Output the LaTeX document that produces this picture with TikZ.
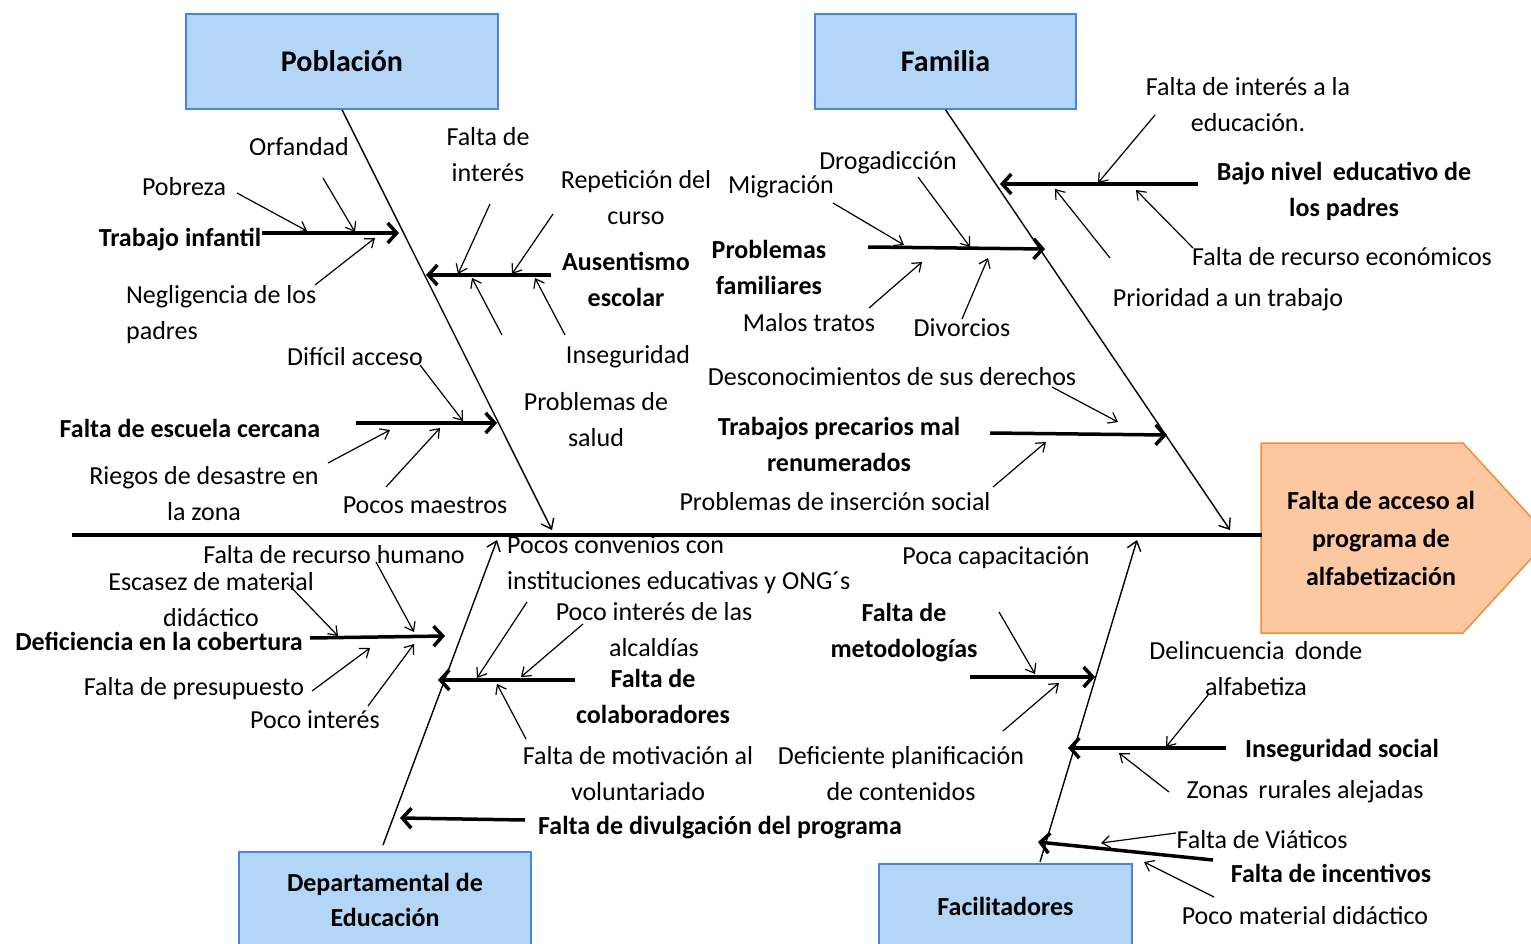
\documentclass[tikz,border=0pt]{standalone}
\usepackage{fontspec}
\setmainfont{Carlito}
\usetikzlibrary{arrows.meta}
\definecolor{boxfill}{HTML}{B4D6F6}
\definecolor{boxline}{HTML}{4583E6}
\definecolor{efffill}{HTML}{FBC8A2}
\definecolor{effline}{HTML}{F28C3A}
\begin{document}
\begin{tikzpicture}[x=1pt,y=-1pt,
  every node/.style={inner sep=0pt, align=center, font=\fontsize{26}{36}\selectfont},
  bld/.style={font=\fontsize{26}{36}\selectfont\bfseries},
  cat/.style={draw=boxline, fill=boxfill, line width=1.5pt},
  bone/.style={line width=1.4pt, -{Straight Barb[length=9pt,width=14pt]}},
  sub/.style={line width=1.2pt, -{Straight Barb[length=8pt,width=12pt]}},
  major/.style={line width=3.5pt, -{Straight Barb[length=9pt,width=20pt]}},
  spine/.style={line width=3.5pt}
]
\clip (0,0) rectangle (1531,944);
\fill[white] (0,0) rectangle (1531,944);

% ---------- category boxes ----------
\node[cat, minimum width=312pt, minimum height=95pt, font=\fontsize{30}{36}\selectfont\bfseries] (pob) at (342,61.5) {Población};
\node[cat, minimum width=261pt, minimum height=95pt, font=\fontsize{30}{36}\selectfont\bfseries] (fam) at (945.5,61.5) {Familia};
\node[cat, minimum width=292pt, minimum height=96pt, font=\fontsize{26}{35}\selectfont\bfseries] (dep) at (385,900) {Departamental de\\Educación};
\node[cat, minimum width=253pt, minimum height=84pt, font=\fontsize{26}{35}\selectfont\bfseries] (fac) at (1005.5,906) {Facilitadores};

% ---------- effect ----------
\draw[draw=effline, fill=efffill, line width=1.5pt] (1261,443) -- (1463,443) -- (1550,538) -- (1463,633) -- (1261,633) -- cycle;
\node[bld, font=\fontsize{26}{38}\selectfont\bfseries] (eff) at (1381,538) {Falta de acceso al\\programa de\\alfabetización};
\coordinate (effw) at (1262,535);
\coordinate (spl) at (72,535);
\draw[spine] (spl) -- (effw);

% ---------- main bones ----------
\coordinate (pobtip) at (552,530);
\coordinate (famtip) at (1230,530);
\coordinate (depbase) at (383,845);
\coordinate (deptip) at (497,540);
\coordinate (facbase) at (1040,862);
\coordinate (factip) at (1137,540);
\draw[bone] (pob.south) -- (pobtip);
\draw[bone] (fam.south) -- (famtip);
\draw[bone] (depbase) -- (deptip);
\draw[bone] (facbase) -- (factip);

% ---------- labels: Poblacion ----------
\node (orf) at (299,147) {Orfandad};
\node (pobr) at (184,187) {Pobreza};
\node[bld] (ti) at (180,240) {Trabajo infantil};
\node[anchor=west, align=left] (neg) at (126,315) {Negligencia de los\\padres};
\node (fint) at (488,155) {Falta de\\interés};
\node (rep) at (636,198) {Repetición del\\curso};
\node[bld] (aus) at (626,279) {Ausentismo\\escolar};
\node (inseg) at (628,357) {Inseguridad};
\node (psal) at (596,420) {Problemas de\\salud};
\node (dif) at (355,357) {Difícil acceso};
\node[bld] (fec) at (190,428) {Falta de escuela cercana};
\node (rie) at (204,494) {Riegos de desastre en\\la zona};
\node (pm) at (425,505) {Pocos maestros};

% ---------- labels: Familia ----------
\node (dro) at (888,163) {Drogadicción};
\node (mig) at (781,187) {Migración};
\node[bld] (pf) at (769,267) {Problemas\\familiares};
\node (mal) at (809,323) {Malos tratos};
\node (div) at (962,328) {Divorcios};
\node (fie) at (1248,105) {Falta de interés a la\\educación.};
\node[bld] (bn) at (1344,191) {Bajo nivel \,educativo de\\los padres};
\node (fre) at (1342,257) {Falta de recurso económicos};
\node (pri) at (1228,300) {Prioridad a un trabajo};
\node (des) at (892,377) {Desconocimientos de sus derechos};
\node[bld] (tp) at (839,444) {Trabajos precarios mal\\renumerados};
\node (pins) at (835,502) {Problemas de inserción social};

% ---------- labels: Departamental ----------
\node (frh) at (334,555) {Falta de recurso humano};
\node (esc) at (211,600) {Escasez de material\\didáctico};
\node[bld] (dc) at (159,641) {Deficiencia en la cobertura};
\node (fpre) at (194,689) {Falta de presupuesto};
\node (pint) at (315,720) {Poco interés};
\node[anchor=west, align=left] (pconv) at (507,565) {Pocos convenios con\\instituciones educativas y ONG´s};
\node (palc) at (654,630) {Poco interés de las\\alcaldías};
\node[bld] (fcol) at (653,696) {Falta de\\colaboradores};
\node (fmot) at (638,774) {Falta de motivación al\\voluntariado};
\node[bld] (fdiv) at (720,828) {Falta de divulgación del programa};

% ---------- labels: Facilitadores ----------
\node (pcap) at (996,558) {Poca capacitación};
\node[bld] (fmet) at (904,633) {Falta de\\metodologías};
\node (dpl) at (901,774) {Deficiente planificación\\de contenidos};
\node (del) at (1256,669) {Delincuencia \,donde\\alfabetiza};
\node[bld] (iss) at (1342,751) {Inseguridad social};
\node (zon) at (1305,792) {Zonas \,rurales alejadas};
\node (fvia) at (1262,840) {Falta de Viáticos};
\node[bld] (finc) at (1331,873) {Falta de incentivos};
\node (pmd) at (1305,916) {Poco material didáctico};

% ---------- major cause arrows ----------
\coordinate (ti-a) at (262,233);  \coordinate (ti-b) at (399,233);
\coordinate (au-a) at (551,275);  \coordinate (au-b) at (426,275);
\coordinate (fe-a) at (356,423);  \coordinate (fe-b) at (497,423);
\coordinate (pf-a) at (868,247);  \coordinate (pf-b) at (1045,249);
\coordinate (bn-a) at (1198,184); \coordinate (bn-b) at (1000,184);
\coordinate (tp-a) at (990,433);  \coordinate (tp-b) at (1167,435);
\coordinate (dc-a) at (310,638);  \coordinate (dc-b) at (445,636);
\coordinate (fc-a) at (575,680);  \coordinate (fc-b) at (438,680);
\coordinate (fd-a) at (525,820);  \coordinate (fd-b) at (400,818);
\coordinate (fm-a) at (970,677);  \coordinate (fm-b) at (1095,677);
\coordinate (is-a) at (1226,748); \coordinate (is-b) at (1068,748);
\coordinate (fi-a) at (1213,860); \coordinate (fi-b) at (1038,842);
\foreach \m in {ti,au,fe,pf,bn,tp,dc,fc,fd,fm,is,fi}
  \draw[major] (\m-a) -- (\m-b);

% ---------- minor cause arrows ----------
\coordinate (s1a) at (237,193);  \coordinate (s1b) at (307,231);
\coordinate (s2a) at (323,178);  \coordinate (s2b) at (355,232);
\coordinate (s3a) at (315,285);  \coordinate (s3b) at (375,238);
\coordinate (s4a) at (490,204);  \coordinate (s4b) at (458,274);
\coordinate (s5a) at (553,214);  \coordinate (s5b) at (512,274);
\coordinate (s6a) at (502,335);  \coordinate (s6b) at (472,278);
\coordinate (s7a) at (565,335);  \coordinate (s7b) at (535,278);
\coordinate (s8a) at (420,365);  \coordinate (s8b) at (463,421);
\coordinate (s9a) at (328,463);  \coordinate (s9b) at (390,430);
\coordinate (s10a) at (386,487); \coordinate (s10b) at (440,428);
\coordinate (s11a) at (833,203); \coordinate (s11b) at (904,245);
\coordinate (s12a) at (918,177); \coordinate (s12b) at (970,247);
\coordinate (s13a) at (869,308); \coordinate (s13b) at (922,262);
\coordinate (s14a) at (962,319); \coordinate (s14b) at (988,258);
\coordinate (s15a) at (1155,115); \coordinate (s15b) at (1098,183);
\coordinate (s16a) at (1193,248); \coordinate (s16b) at (1136,190);
\coordinate (s17a) at (1110,258); \coordinate (s17b) at (1055,189);
\coordinate (s18a) at (1052,387); \coordinate (s18b) at (1118,422);
\coordinate (s19a) at (993,487);  \coordinate (s19b) at (1046,442);
\coordinate (s20a) at (376,562);  \coordinate (s20b) at (414,632);
\coordinate (s21a) at (287,583);  \coordinate (s21b) at (338,636);
\coordinate (s22a) at (312,691);  \coordinate (s22b) at (370,648);
\coordinate (s23a) at (368,706);  \coordinate (s23b) at (414,644);
\coordinate (s24a) at (527,602);  \coordinate (s24b) at (477,678);
\coordinate (s25a) at (583,624);  \coordinate (s25b) at (521,677);
\coordinate (s26a) at (526,739);  \coordinate (s26b) at (497,684);
\coordinate (s27a) at (999,612);  \coordinate (s27b) at (1035,674);
\coordinate (s28a) at (1003,731); \coordinate (s28b) at (1059,683);
\coordinate (s29a) at (1208,695); \coordinate (s29b) at (1166,747);
\coordinate (s30a) at (1169,792); \coordinate (s30b) at (1119,753);
\coordinate (s31a) at (1176,833); \coordinate (s31b) at (1101,843);
\coordinate (s32a) at (1214,897); \coordinate (s32b) at (1144,862);
\foreach \s in {1,...,32}
  \draw[sub] (s\s a) -- (s\s b);
\end{tikzpicture}
\end{document}
